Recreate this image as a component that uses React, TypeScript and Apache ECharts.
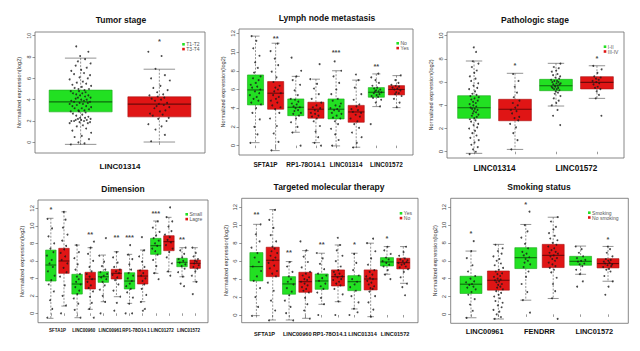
import React, { useEffect, useRef } from "react";
import * as echarts from "echarts";

// ---------------- DATA ----------------
const TITLES = ["Tumor stage", "Lymph node metastasis", "Pathologic stage", "Dimension", "Targeted molecular therapy", "Smoking status"];

const P1_CATS = ["LINC01314"];
const P1_GROUPS = ["T1-T2", "T3-T4"];
const P1_BOXES = [[-0.19, 2.86, 3.8, 4.9, 7.9], [0.03, 2.39, 3.58, 4.27, 6.86]];
const P1_POINTS = [
  [-0.2, -0.1, 0.0, 0.3, 0.5, 0.6, 0.9, 1.1, 1.3, 1.5, 1.6, 1.8, 1.8, 1.9, 1.9, 2.0, 2.0, 2.0, 2.1, 2.1, 2.1, 2.2, 2.2, 2.3, 2.3, 2.4, 2.5, 2.6, 2.7, 2.8, 2.9, 2.9, 3.0, 3.0, 3.1, 3.2, 3.2, 3.3, 3.4, 3.4, 3.5, 3.6, 3.6, 3.7, 3.7, 3.8, 3.8, 3.9, 3.9, 4.0, 4.0, 4.1, 4.2, 4.2, 4.3, 4.4, 4.4, 4.5, 4.6, 4.6, 4.7, 4.8, 4.8, 4.9, 5.0, 5.0, 5.1, 5.2, 5.3, 5.4, 5.5, 5.6, 5.7, 5.9, 6.0, 6.1, 6.3, 6.4, 6.5, 6.7, 6.8, 7.0, 7.2, 7.4, 7.6, 7.8, 8.1, 8.5, 9.0],
  [0.1, 0.7, 1.2, 1.5, 1.7, 2.0, 2.2, 2.3, 2.5, 2.6, 2.7, 2.9, 3.0, 3.2, 3.3, 3.4, 3.5, 3.6, 3.7, 3.9, 4.0, 4.1, 4.2, 4.3, 4.4, 4.5, 4.7, 4.9, 5.1, 5.3, 5.8, 6.0, 6.3, 6.9, 8.1, 8.5],
];
const P1_STARS: [number, number, string][] = [[2, 9.6, "*"]];

const P2_CATS = ["SFTA1P", "RP1-78O14.1", "LINC01314", "LINC01572"];
const P2_GROUPS = ["No", "Yes"];
const P2_BOXES = [
  [0.32, 4.35, 5.95, 7.55, 11.7], [-0.53, 3.89, 5.6, 6.84, 10.94],
  [1.43, 3.2, 4.1, 4.99, 7.4], [0.32, 2.93, 3.89, 4.64, 7.1],
  [-0.03, 2.85, 3.89, 4.99, 8.0], [-0.17, 2.5, 3.6, 4.3, 7.0],
  [4.17, 5.17, 5.7, 6.2, 7.66], [4.06, 5.42, 6.0, 6.41, 7.48],
];
const P2_POINTS = [
  [0.3, 1.2, 2.0, 2.8, 3.5, 4.0, 4.4, 4.6, 4.8, 5.0, 5.2, 5.4, 5.6, 5.8, 6.0, 6.2, 6.3, 6.5, 6.7, 7.0, 7.2, 7.4, 7.8, 8.3, 8.9, 9.6, 10.4, 11.2, 11.7],
  [-0.5, 0.4, 1.3, 2.1, 2.9, 3.5, 3.9, 4.1, 4.3, 4.6, 4.8, 5.0, 5.2, 5.4, 5.6, 5.8, 6.0, 6.2, 6.4, 6.8, 7.3, 7.9, 8.6, 9.3, 10.1, 10.9],
  [0.0, 1.4, 2.0, 2.5, 2.9, 3.2, 3.4, 3.5, 3.7, 3.8, 4.0, 4.1, 4.2, 4.4, 4.5, 4.7, 4.9, 5.0, 5.4, 5.9, 6.5, 7.0, 7.4, 8.0, 9.4],
  [0.0, 0.3, 0.9, 1.5, 2.1, 2.6, 2.9, 3.1, 3.2, 3.4, 3.5, 3.7, 3.8, 4.0, 4.1, 4.3, 4.6, 5.0, 5.5, 6.1, 6.6, 7.1, 8.7],
  [0.0, 0.6, 1.2, 1.8, 2.3, 2.6, 2.9, 3.0, 3.2, 3.4, 3.5, 3.7, 3.8, 3.9, 4.0, 4.2, 4.3, 4.5, 4.8, 5.0, 5.5, 6.0, 6.7, 7.4, 8.0, 9.0],
  [-0.2, 0.3, 0.9, 1.4, 1.9, 2.3, 2.6, 2.9, 3.1, 3.3, 3.5, 3.6, 3.8, 3.9, 4.2, 4.4, 4.9, 5.5, 6.2, 7.0, 7.6],
  [2.3, 4.2, 4.6, 4.9, 5.1, 5.2, 5.3, 5.4, 5.5, 5.6, 5.7, 5.8, 5.8, 5.9, 6.0, 6.1, 6.2, 6.4, 6.7, 7.0, 7.3, 7.7],
  [4.1, 4.6, 5.0, 5.3, 5.5, 5.6, 5.7, 5.9, 6.0, 6.1, 6.2, 6.3, 6.4, 6.5, 6.7, 7.0, 7.5],
];
const P2_STARS: [number, number, string][] = [[2, 11.65, "**"], [5, 10.1, "***"], [7, 8.6, "**"]];

const P3_CATS = ["LINC01314", "LINC01572"];
const P3_GROUPS = ["I-II", "III-IV"];
const P3_BOXES = [
  [-0.14, 2.88, 3.79, 4.83, 7.82], [0.2, 2.67, 3.66, 4.52, 6.76],
  [3.94, 5.26, 5.69, 6.24, 7.62], [4.6, 5.41, 5.98, 6.47, 7.41],
];
const P3_POINTS = [
  [-0.2, 0.0, 0.2, 0.4, 0.6, 0.8, 1.0, 1.2, 1.4, 1.6, 1.8, 2.0, 2.1, 2.3, 2.4, 2.6, 2.7, 2.8, 2.9, 3.0, 3.1, 3.2, 3.3, 3.4, 3.5, 3.6, 3.7, 3.7, 3.8, 3.9, 4.0, 4.1, 4.2, 4.3, 4.4, 4.5, 4.6, 4.7, 4.8, 4.9, 5.0, 5.2, 5.4, 5.5, 5.7, 5.9, 6.1, 6.3, 6.5, 6.8, 7.0, 7.3, 7.6, 7.8, 8.6, 9.0],
  [0.2, 1.0, 1.6, 2.1, 2.4, 2.7, 2.9, 3.0, 3.3, 3.5, 3.6, 3.8, 4.0, 4.2, 4.4, 4.7, 5.1, 5.6, 6.1, 6.7],
  [2.3, 3.1, 3.6, 4.0, 4.2, 4.4, 4.6, 4.8, 5.0, 5.1, 5.2, 5.3, 5.4, 5.4, 5.5, 5.5, 5.6, 5.6, 5.7, 5.7, 5.8, 5.8, 5.9, 5.9, 6.0, 6.0, 6.1, 6.1, 6.2, 6.3, 6.4, 6.5, 6.6, 6.7, 6.9, 7.0, 7.2, 7.3, 7.6],
  [3.1, 4.6, 4.9, 5.2, 5.4, 5.5, 5.6, 5.8, 5.9, 6.0, 6.1, 6.2, 6.3, 6.4, 6.5, 6.8, 7.1, 7.4],
];
const P3_STARS: [number, number, string][] = [[2, 7.6, "*"], [4, 8.2, "*"]];

const P4_CATS = ["SFTA1P", "LINC00960", "LINC00961", "RP1-78O14.1", "LINC01272", "LINC01572"];
const P4_GROUPS = ["Small", "Lagre"];
const P4_BOXES = [
  [-0.57, 3.69, 5.52, 7.23, 10.86], [0.83, 4.57, 5.98, 7.43, 11.6],
  [-0.5, 2.2, 3.35, 4.46, 7.8], [0.46, 2.78, 3.92, 4.69, 7.5],
  [1.33, 3.54, 4.18, 4.75, 6.66], [1.9, 3.92, 4.57, 5.03, 7.04],
  [1.14, 2.78, 3.69, 4.64, 6.74], [1.33, 3.35, 4.26, 4.95, 7.23],
  [4.57, 6.74, 7.73, 8.57, 10.55], [4.75, 7.16, 8.19, 8.87, 10.97],
  [4.18, 5.33, 5.83, 6.29, 7.5], [3.61, 5.14, 5.71, 6.09, 7.5],
];
const P4_POINTS = [
  [-0.5, 0.5, 1.5, 2.5, 3.3, 3.8, 4.3, 4.8, 5.3, 5.7, 6.1, 6.6, 7.0, 7.4, 8.0, 8.8, 9.7, 10.8],
  [0.0, 0.9, 2.0, 3.2, 4.2, 4.7, 5.2, 5.7, 6.1, 6.5, 6.9, 7.3, 7.7, 8.3, 9.0, 9.8, 10.7, 11.6],
  [-0.5, 0.4, 1.1, 1.7, 2.2, 2.6, 3.0, 3.3, 3.6, 3.9, 4.2, 4.5, 5.0, 5.6, 6.3, 7.0, 7.8],
  [-0.5, 0.5, 1.2, 1.9, 2.5, 2.9, 3.2, 3.6, 3.9, 4.2, 4.5, 4.8, 5.3, 6.0, 6.8, 7.5, 8.2],
  [0.0, 1.3, 2.0, 2.7, 3.2, 3.6, 3.9, 4.1, 4.3, 4.5, 4.7, 5.0, 5.4, 5.9, 6.6, 8.6],
  [0.3, 1.2, 1.9, 2.6, 3.3, 3.8, 4.1, 4.4, 4.6, 4.8, 5.0, 5.3, 5.8, 6.4, 7.0],
  [0.0, 0.0, 1.1, 1.8, 2.4, 2.8, 3.1, 3.4, 3.7, 4.0, 4.3, 4.6, 5.0, 5.6, 6.2, 6.7, 7.8],
  [0.3, 0.5, 1.3, 2.1, 2.8, 3.3, 3.7, 4.0, 4.3, 4.6, 4.9, 5.3, 5.9, 6.5, 7.2, 8.7],
  [3.9, 4.6, 5.4, 6.1, 6.7, 7.1, 7.4, 7.7, 8.0, 8.3, 8.6, 8.9, 9.3, 9.8, 10.5],
  [4.3, 4.8, 5.7, 6.4, 7.0, 7.4, 7.8, 8.1, 8.4, 8.7, 9.0, 9.4, 9.9, 10.5, 11.0, 12.1],
  [3.1, 3.4, 4.2, 4.7, 5.1, 5.4, 5.6, 5.8, 6.0, 6.2, 6.4, 6.8, 7.2, 7.5],
  [2.2, 3.6, 4.3, 4.8, 5.1, 5.3, 5.5, 5.7, 5.9, 6.0, 6.2, 6.5, 6.9, 7.5],
];
const P4_STARS: [number, number, string][] = [[1, 12.0, "*"], [4, 9.2, "**"], [6, 8.85, "**"], [7, 8.85, "***"], [9, 11.6, "***"], [11, 8.6, "**"]];

const P5_CATS = ["SFTA1P", "LINC00960", "RP1-78O14.1", "LINC01314", "LINC01572"];
const P5_GROUPS = ["Yes", "No"];
const P5_BOXES = [
  [-0.07, 3.79, 5.39, 6.95, 10.1], [-0.56, 4.27, 6.1, 7.55, 11.74],
  [-0.56, 2.31, 3.46, 4.27, 5.95], [-0.37, 2.53, 3.71, 4.76, 7.17],
  [1.19, 2.86, 3.79, 4.57, 6.88], [1.48, 3.23, 4.27, 5.02, 7.8],
  [0.67, 2.71, 3.71, 4.38, 6.88], [-0.19, 2.79, 4.01, 5.02, 8.0],
  [4.54, 5.46, 5.91, 6.39, 7.62], [3.53, 5.13, 5.83, 6.32, 7.62],
];
const P5_POINTS = [
  [-0.1, 0.9, 2.0, 3.0, 3.8, 4.3, 4.9, 5.4, 5.9, 6.4, 6.9, 7.5, 8.2, 9.0, 10.1],
  [-0.6, 0.5, 1.6, 2.7, 3.6, 4.3, 4.6, 4.9, 5.2, 5.5, 5.8, 6.1, 6.4, 6.6, 6.9, 7.1, 7.4, 7.6, 8.2, 8.9, 9.7, 10.6, 11.7],
  [-0.6, 0.2, 0.9, 1.6, 2.2, 2.6, 3.0, 3.4, 3.7, 4.0, 4.3, 4.8, 5.4, 5.9],
  [-0.4, 0.5, 1.2, 1.9, 2.5, 2.7, 2.9, 3.1, 3.3, 3.5, 3.7, 3.9, 4.0, 4.2, 4.4, 4.6, 4.8, 5.3, 5.9, 6.5, 7.2, 8.2],
  [0.0, 1.2, 1.9, 2.5, 2.9, 3.2, 3.5, 3.8, 4.1, 4.4, 4.6, 5.1, 5.7, 6.3, 6.9],
  [0.0, 1.5, 2.3, 2.9, 3.3, 3.5, 3.7, 3.9, 4.0, 4.2, 4.3, 4.5, 4.6, 4.8, 5.0, 5.4, 6.0, 6.6, 7.2, 7.8, 8.6],
  [0.0, 0.3, 0.7, 1.4, 2.1, 2.7, 3.1, 3.4, 3.7, 4.0, 4.4, 5.0, 5.8, 6.8],
  [-0.2, 0.6, 1.4, 2.1, 2.6, 2.9, 3.0, 3.2, 3.4, 3.6, 3.8, 4.0, 4.1, 4.3, 4.5, 4.8, 5.0, 5.6, 6.3, 7.1, 8.0, 8.5],
  [4.0, 4.5, 5.0, 5.4, 5.6, 5.8, 6.0, 6.2, 6.4, 6.8, 7.2, 7.6],
  [2.2, 3.1, 3.5, 4.2, 4.8, 5.1, 5.3, 5.4, 5.6, 5.7, 5.8, 5.9, 6.0, 6.1, 6.2, 6.3, 6.6, 7.0, 7.6],
];
const P5_STARS: [number, number, string][] = [[1, 11.4, "**"], [3, 7.1, "**"], [5, 8.06, "**"], [7, 8.0, "*"], [9, 8.73, "*"]];

const P6_CATS = ["LINC00961", "FENDRR", "LINC01572"];
const P6_GROUPS = ["Smoking", "No smoking"];
const P6_BOXES = [
  [-0.38, 2.34, 3.38, 4.27, 7.09], [-0.52, 2.71, 3.82, 4.86, 7.84],
  [1.59, 5.13, 6.35, 7.47, 10.07], [1.78, 5.24, 6.61, 7.84, 10.88],
  [4.49, 5.5, 5.94, 6.5, 7.65], [3.71, 5.2, 5.69, 6.24, 7.61],
];
const P6_POINTS = [
  [-0.4, 0.4, 1.1, 1.7, 2.2, 2.5, 2.8, 3.0, 3.1, 3.3, 3.4, 3.6, 3.7, 4.0, 4.3, 4.8, 5.5, 6.3, 7.1, 8.2],
  [-0.5, -0.3, 0.0, 0.3, 0.5, 0.8, 1.0, 1.3, 1.5, 1.8, 2.0, 2.2, 2.4, 2.6, 2.8, 3.0, 3.1, 3.3, 3.4, 3.6, 3.7, 3.8, 3.9, 4.0, 4.2, 4.3, 4.5, 4.6, 4.8, 5.0, 5.2, 5.5, 5.7, 6.0, 6.2, 6.5, 6.8, 7.1, 7.4, 7.8],
  [0.2, 1.6, 2.5, 3.4, 4.2, 4.8, 5.3, 5.6, 5.8, 6.0, 6.2, 6.4, 6.6, 6.8, 7.0, 7.4, 7.9, 8.6, 9.3, 10.0, 11.5],
  [-0.5, 1.8, 2.6, 3.4, 4.1, 4.7, 5.0, 5.2, 5.4, 5.6, 5.8, 6.0, 6.2, 6.3, 6.5, 6.6, 6.8, 6.9, 7.0, 7.2, 7.4, 7.6, 7.8, 8.0, 8.3, 8.5, 8.8, 9.1, 9.5, 9.8, 10.4, 10.9],
  [3.1, 3.7, 4.5, 5.0, 5.4, 5.6, 5.7, 5.9, 6.0, 6.1, 6.3, 6.5, 6.9, 7.3, 7.6],
  [2.2, 3.1, 3.7, 4.3, 4.8, 5.0, 5.1, 5.3, 5.4, 5.5, 5.6, 5.7, 5.8, 5.9, 6.0, 6.1, 6.2, 6.5, 6.9, 7.3, 7.6],
];
const P6_STARS: [number, number, string][] = [[1, 9.2, "*"], [3, 12.5, "*"], [6, 8.6, "*"]];

const Y_NAME = "Normalized expression(log2)";
const Y_TICKS_10 = [0, 2, 4, 6, 8, 10];
const Y_TICKS_12 = [0, 2, 4, 6, 8, 10, 12];

// ---------------- LAYOUT / STYLE ----------------
const FONT = '"Liberation Sans", Arial, Helvetica, sans-serif';
const GREEN = "#22e022";
const GREEN_BORDER = "#18a818";
const GREEN_MED = "#0d6a0d";
const RED = "#e01515";
const RED_BORDER = "#a80e0e";
const RED_MED = "#6e0808";
const JIT = [-0.9, 0.35, -0.2, 0.75, -0.55, 0.1, 0.95, -0.75, 0.5, -0.35, 0.2, -1.0, 0.65, -0.1, 0.85, -0.6, 0.3, -0.85, 0.05, 0.55, -0.45, 0.9, -0.25, 0.4, -0.05, 0.7, -0.4, 0.15, -0.7, 0.45, -0.15];

const PANELS = [
  { cats: P1_CATS, groups: P1_GROUPS, boxes: P1_BOXES, points: P1_POINTS, stars: P1_STARS, yticks: Y_TICKS_10,
    left: 35, top: 32, width: 170, height: 121, xmin: 0.42, xmax: 2.58, ymin: -1.0, ymax: 10.35, jit: 0.14,
    tx: 121, ty: 20, lx: 183.5, ly: 44.3, catFont: 8, catMargin: 9, axFont: 5.5 },
  { cats: P2_CATS, groups: P2_GROUPS, boxes: P2_BOXES, points: P2_POINTS, stars: P2_STARS, yticks: Y_TICKS_12,
    left: 239, top: 29, width: 174, height: 126, xmin: 0.18, xmax: 8.82, ymin: -1.0, ymax: 12.46, jit: 0.28,
    tx: 327, ty: 18, lx: 397.7, ly: 43.3, catFont: 6.4, catMargin: 6, axFont: 6 },
  { cats: P3_CATS, groups: P3_GROUPS, boxes: P3_BOXES, points: P3_POINTS, stars: P3_STARS, yticks: Y_TICKS_10,
    left: 447, top: 32, width: 177, height: 126, xmin: 0.34, xmax: 4.66, ymin: -0.54, ymax: 10.32, jit: 0.12,
    tx: 535, ty: 20, lx: 605, ly: 46.7, catFont: 8.2, catMargin: 6, axFont: 5.8 },
  { cats: P4_CATS, groups: P4_GROUPS, boxes: P4_BOXES, points: P4_POINTS, stars: P4_STARS, yticks: Y_TICKS_12,
    left: 38, top: 200, width: 170, height: 122.7, xmin: 0.02, xmax: 12.98, ymin: -1.07, ymax: 12.95, jit: 0.3,
    tx: 123, ty: 189, lx: 186.7, ly: 214.3, catFont: 4.5, catMargin: 5.5, axFont: 6 },
  { cats: P5_CATS, groups: P5_GROUPS, boxes: P5_BOXES, points: P5_POINTS, stars: P5_STARS, yticks: Y_TICKS_12,
    left: 241.7, top: 198.3, width: 176.3, height: 124.4, xmin: 0.1, xmax: 10.9, ymin: -0.86, ymax: 13.0, jit: 0.3,
    tx: 329, ty: 187, lx: 401, ly: 213.3, catFont: 5.6, catMargin: 8.5, axFont: 6 },
  { cats: P6_CATS, groups: P6_GROUPS, boxes: P6_BOXES, points: P6_POINTS, stars: P6_STARS, yticks: Y_TICKS_12,
    left: 450.7, top: 198.3, width: 177.6, height: 125, xmin: 0.26, xmax: 6.74, ymin: -1.0, ymax: 13.0, jit: 0.18,
    tx: 539, ty: 187, lx: 589.3, ly: 212.7, catFont: 7.4, catMargin: 5, axFont: 6 },
];

function renderBox(params: any, api: any) {
  const x = api.value(0);
  const lo = api.value(1), q1 = api.value(2), md = api.value(3), q3 = api.value(4), hi = api.value(5);
  const g = api.value(6);
  const half = api.size([0.8, 0])[0] / 2;
  const pLo = api.coord([x, lo]);
  const pQ1 = api.coord([x, q1]);
  const pMd = api.coord([x, md]);
  const pQ3 = api.coord([x, q3]);
  const pHi = api.coord([x, hi]);
  const cx = pMd[0];
  const fill = g ? RED : GREEN;
  const border = g ? RED_BORDER : GREEN_BORDER;
  const med = g ? RED_MED : GREEN_MED;
  const wStyle = { stroke: "#4a4a4a", lineWidth: 0.6 };
  return {
    type: "group",
    children: [
      { type: "line", shape: { x1: cx, y1: pHi[1], x2: cx, y2: pQ3[1] }, style: { ...wStyle, lineDash: [2, 1.5] } },
      { type: "line", shape: { x1: cx, y1: pQ1[1], x2: cx, y2: pLo[1] }, style: { ...wStyle, lineDash: [2, 1.5] } },
      { type: "line", shape: { x1: cx - half / 2, y1: pHi[1], x2: cx + half / 2, y2: pHi[1] }, style: wStyle },
      { type: "line", shape: { x1: cx - half / 2, y1: pLo[1], x2: cx + half / 2, y2: pLo[1] }, style: wStyle },
      { type: "rect", shape: { x: cx - half, y: pQ3[1], width: 2 * half, height: pQ1[1] - pQ3[1] }, style: { fill, stroke: border, lineWidth: 0.6 } },
      { type: "line", shape: { x1: cx - half, y1: pMd[1], x2: cx + half, y2: pMd[1] }, style: { stroke: med, lineWidth: 1.1 } },
    ],
  };
}

function buildOption() {
  const grid: any[] = [];
  const xAxis: any[] = [];
  const yAxis: any[] = [];
  const series: any[] = [];
  const graphic: any[] = [];

  PANELS.forEach((p, pi) => {
    grid.push({ left: p.left, top: p.top, width: p.width, height: p.height, show: true, borderColor: "#6a6a6a", borderWidth: 0.8, backgroundColor: "transparent" });
    const tickVals = p.boxes.map((_, i) => i + 1);
    const labVals = p.cats.map((_, i) => 1.5 + 2 * i);
    xAxis.push({
      type: "value", gridIndex: pi, min: p.xmin, max: p.xmax,
      axisLine: { show: false }, splitLine: { show: false },
      axisTick: { show: true, customValues: tickVals, length: 2.5, lineStyle: { color: "#555", width: 0.6 } },
      axisLabel: {
        show: true, customValues: labVals, margin: p.catMargin, hideOverlap: false, showMinLabel: true, showMaxLabel: true,
        formatter: (v: number) => p.cats[Math.round((v - 1.5) / 2)] ?? "",
        fontSize: p.catFont, fontWeight: "bold", color: "#111", fontFamily: FONT,
      },
    });
    yAxis.push({
      type: "value", gridIndex: pi, min: p.ymin, max: p.ymax,
      axisLine: { show: false }, splitLine: { show: false },
      axisTick: { show: true, customValues: p.yticks, length: 2.5, lineStyle: { color: "#555", width: 0.6 } },
      axisLabel: { show: true, customValues: p.yticks, rotate: 90, margin: 3.5, fontSize: p.axFont, color: "#444", fontFamily: FONT },
      name: Y_NAME, nameLocation: "middle", nameGap: 13,
      nameTextStyle: { fontSize: 5.6, color: "#333", fontFamily: FONT },
    });
    series.push({
      type: "custom", xAxisIndex: pi, yAxisIndex: pi, renderItem: renderBox,
      encode: { x: 0, y: [1, 2, 3, 4, 5] },
      data: p.boxes.map((b, i) => [i + 1, b[0], b[1], b[2], b[3], b[4], i % 2]),
      z: 2, silent: true,
    });
    const pts: number[][] = [];
    p.points.forEach((vals, i) => {
      vals.forEach((v, k) => {
        pts.push([i + 1 + JIT[(k + i * 7) % JIT.length] * p.jit, v]);
      });
    });
    series.push({
      type: "scatter", xAxisIndex: pi, yAxisIndex: pi, data: pts, symbolSize: 1.9,
      itemStyle: { color: "#1a1a1a", opacity: 0.8 }, z: 3, silent: true,
    });
    series.push({
      type: "scatter", xAxisIndex: pi, yAxisIndex: pi, symbolSize: 0.1,
      data: p.stars.map((s) => ({ value: [s[0], s[1]], name: s[2] })),
      label: { show: true, position: "inside", formatter: "{b}", fontSize: 7.5, fontWeight: "bold", color: "#111", fontFamily: FONT, offset: [0, 1.5] },
      itemStyle: { color: "transparent" }, z: 4, silent: true,
    });
    graphic.push({
      type: "text", x: p.tx, y: p.ty,
      style: { text: TITLES[pi], fontSize: 8.5, fontWeight: "bold", fontFamily: FONT, fill: "#111", align: "center", verticalAlign: "middle", textAlign: "center", textVerticalAlign: "middle" },
    });
    p.groups.forEach((gname, gi) => {
      const y = p.ly + gi * 4.8;
      graphic.push({ type: "rect", shape: { x: p.lx - 1.3, y: y - 1.3, width: 2.6, height: 2.6 }, style: { fill: gi ? RED : GREEN } });
      graphic.push({
        type: "text", x: p.lx + 2.8, y,
        style: { text: gname, fontSize: 5, fontFamily: FONT, fill: "#555", align: "left", verticalAlign: "middle", textAlign: "left", textVerticalAlign: "middle" },
      });
    });
  });

  return {
    animation: false,
    backgroundColor: "#ffffff",
    textStyle: { fontFamily: FONT },
    grid, xAxis, yAxis, series, graphic,
  };
}

export default function App() {
  const ref = useRef<HTMLDivElement>(null);
  useEffect(() => {
    if (!ref.current) return;
    const chart = echarts.init(ref.current, null, { renderer: "svg" });
    chart.setOption(buildOption() as any);
    return () => chart.dispose();
  }, []);
  return <div ref={ref} style={{ position: "fixed", left: 0, top: 0, width: 640, height: 351, background: "#fff" }} />;
}
